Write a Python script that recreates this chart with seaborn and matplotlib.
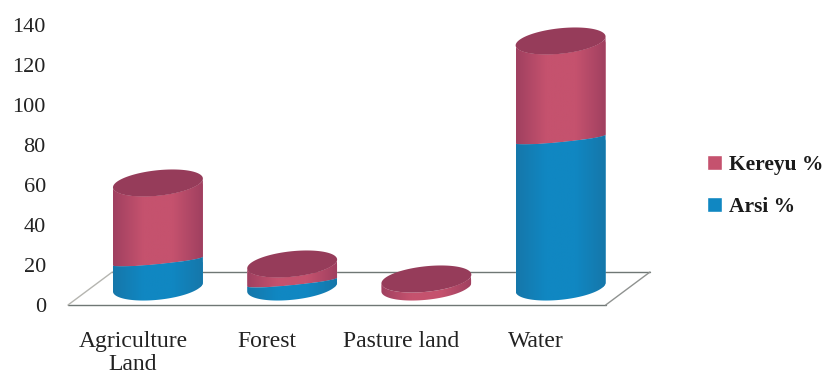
import numpy as np
import matplotlib
matplotlib.use("Agg")
import matplotlib.pyplot as plt
import seaborn as sns
from matplotlib.colors import LinearSegmentedColormap
from matplotlib.patches import PathPatch, Polygon
from matplotlib.path import Path
from matplotlib.transforms import ScaledTranslation

categories = ["Agriculture\nLand", "Forest", "Pasture land", "Water"]
arsi = [13, 2.5, 0, 74]
kereyu = [39, 9, 4, 49]
y_ticks = [0, 20, 40, 60, 80, 100, 120, 140]

KEREYU_MID, KEREYU_EDGE, KEREYU_TOP = "#c5526e", "#a04060", "#963c5a"
ARSI_MID, ARSI_EDGE = "#1087c2", "#1677aa"
BAR_WIDTH = 0.67
LIFT = 9            # height of the cylinder base above the front floor edge
CAP_B, CAP_TILT = 6.4, 2.2
SEAM_B = 1.6        # seams between stacked sections curve less than the rims
FLOOR_DX, FLOOR_DY = 0.33, 16.5


def front_arc(cx, cy, half, depth=CAP_B, reverse=False):
    t = np.linspace(np.pi, 2 * np.pi, 60)
    pts = np.column_stack([cx + half * np.cos(t), cy + depth * np.sin(t) + CAP_TILT * np.cos(t)])
    return pts[::-1] if reverse else pts


def cap_outline(cx, cy, half):
    t = np.linspace(0, 2 * np.pi, 120)
    return np.column_stack([cx + half * np.cos(t), cy + CAP_B * np.sin(t) + CAP_TILT * np.cos(t)])


def shade(ax, outline, x0, x1, y0, y1, edge, mid, z):
    cmap = LinearSegmentedColormap.from_list("body", [edge, mid, mid, edge])
    img = ax.imshow(np.linspace(0, 1, 128).reshape(1, -1), extent=[x0, x1, y0, y1],
                    aspect="auto", cmap=cmap, zorder=z, interpolation="bilinear")
    clip = PathPatch(Path(outline), transform=ax.transData, fc="none", ec="none")
    img.set_clip_path(clip)
    return clip


sns.set_theme(style="white")
plt.rcParams["font.family"] = ["Liberation Serif", "DejaVu Serif"]

fig = plt.figure(figsize=(8.27, 3.76), dpi=100)
ax = fig.add_axes([68 / 827, (376 - 305) / 376, 582 / 827, 280 / 376])

sns.barplot(x=categories, y=kereyu, bottom=[LIFT + a for a in arsi], width=BAR_WIDTH,
            color=KEREYU_MID, saturation=1, label="Kereyu %", ax=ax, zorder=2)
sns.barplot(x=categories, y=arsi, bottom=LIFT, width=BAR_WIDTH,
            color=ARSI_MID, saturation=1, label="Arsi %", ax=ax, zorder=2)

handles, labels = ax.get_legend_handles_labels()
n = len(categories)
kereyu_bars, arsi_bars = ax.patches[:n], ax.patches[n:2 * n]

# Turn each flat bar into a section of a tilted cylinder
for bars, edge, mid, z in [(kereyu_bars, KEREYU_EDGE, KEREYU_MID, 3), (arsi_bars, ARSI_EDGE, ARSI_MID, 4)]:
    for bar in bars:
        if bar.get_height() <= 0:
            bar.set_visible(False)
            continue
        half = bar.get_width() / 2
        cx = bar.get_x() + half
        low, high = bar.get_y(), bar.get_y() + bar.get_height()
        low_depth = CAP_B if low <= LIFT else SEAM_B
        high_depth = CAP_B if bars is kereyu_bars else SEAM_B
        outline = np.vstack([front_arc(cx, low, half, low_depth),
                             front_arc(cx, high, half, high_depth, reverse=True)])
        clip = shade(ax, outline, cx - half, cx + half, low - 10, high + 10, edge, mid, z)
        bar.set_clip_path(clip)

# Dark top face of every column
for bar in kereyu_bars:
    half = bar.get_width() / 2
    cx = bar.get_x() + half
    ax.add_patch(Polygon(cap_outline(cx, bar.get_y() + bar.get_height(), half),
                         closed=True, fc=KEREYU_TOP, ec="none", zorder=5))

# Floor of the 3D plot area
xl, xr = -0.67, 3.336
floor_kw = dict(lw=1.0, clip_on=False, zorder=1, solid_capstyle="round")
ax.plot([xl, xr], [0, 0], color="#6f7775", **floor_kw)
ax.plot([xl + FLOOR_DX, xr + FLOOR_DX], [FLOOR_DY, FLOOR_DY], color="#6f7775", **floor_kw)
ax.plot([xl, xl + FLOOR_DX], [0, FLOOR_DY], color="#b5b5b0", **floor_kw)
ax.plot([xr, xr + FLOOR_DX], [0, FLOOR_DY], color="#8f9290", **floor_kw)

ax.set_xlim(xl, xr + FLOOR_DX)
ax.set_ylim(0, 140)
ax.set_yticks(y_ticks)
sns.despine(ax=ax, left=True, bottom=True)
ax.tick_params(axis="both", length=0, labelcolor="#222222")
ax.tick_params(axis="y", pad=16, labelsize=16)
ax.tick_params(axis="x", pad=19, labelsize=17)
for lab in ax.get_xticklabels():
    lab.set_transform(lab.get_transform() + ScaledTranslation(-25 / 100, 0, fig.dpi_scale_trans))
    lab.set_linespacing(1.12)

leg = ax.legend(handles, labels, loc="center left", bbox_to_anchor=(707 / 827, 1 - 186 / 376),
                bbox_transform=fig.transFigure, frameon=False, handlelength=0.7, handleheight=0.7,
                handletextpad=0.3, labelspacing=1.0, borderpad=0, borderaxespad=0,
                prop={"weight": "bold", "size": 15.5})
for t in leg.get_texts():
    t.set_color("#1a1a1a")

fig.savefig("out.png", dpi=100, facecolor="white")
